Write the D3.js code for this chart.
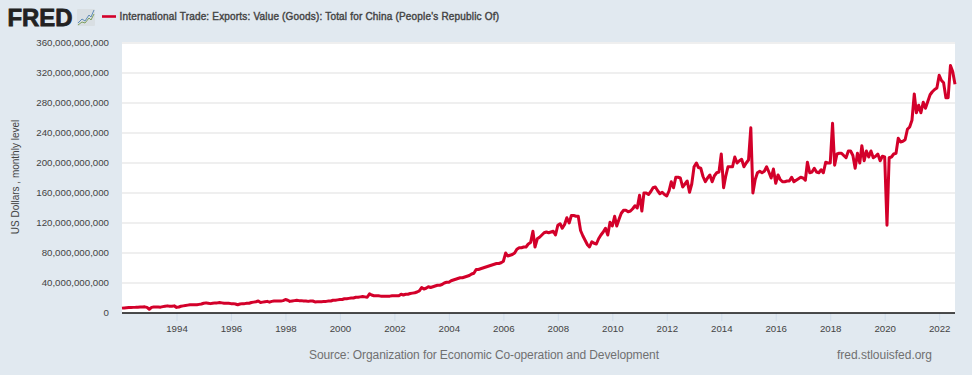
<!DOCTYPE html>
<html><head><meta charset="utf-8">
<style>html,body{margin:0;padding:0;background:#e1e9f0;overflow:hidden}svg{display:block}text{font-family:"Liberation Sans",Arial,sans-serif}</style>
<script src="https://cdn.jsdelivr.net/npm/d3@7"></script></head><body><svg id="c" width="972" height="375"></svg>
<script>
const seriesTitle = "International Trade: Exports: Value (Goods): Total for China (People's Republic Of)";
const yAxisLabel = "US Dollars , monthly level";
const sourceText = "Source: Organization for Economic Co-operation and Development";
const siteText = "fred.stlouisfed.org";
const startYear = 1992;
const yTicks = [0,40,80,120,160,200,240,280,320,360];
const xTickYears = [1994,1996,1998,2000,2002,2004,2006,2008,2010,2012,2014,2016,2018,2020,2022];
// Monthly values in billions of US dollars
const v1992 = [6.5,6.8,7,7.2,7.3,7.5,7.6,7.8,8,8,8.2,7.5];
const v1993 = [5,7.5,8,8,8,7.8,8.5,9,9.5,9,9,9.5];
const v1994 = [7.5,8,9,9.5,10,10.5,11,11,11,11,11.5,12];
const v1995 = [13,13.5,13,12.5,13,13.5,13.5,14,13.5,13,13,13];
const v1996 = [12.5,12.5,12,11,12,12.5,12.5,13,13,14,14.5,15];
const v1997 = [16,14,14.5,15,15.5,14.5,15.5,16,16,16,16,16.5];
const v1998 = [18,17,15.5,16,16.5,17,16.5,16.5,16,16,15.5,16];
const v1999 = [16,14.7,15,15,15,15.5,15.5,16,16,17,17,17.5];
const v2000 = [18,18,19,19,19.5,20,20,21,21,21.5,22,21.5];
const v2001 = [21,25.5,24,23,23,23,22.5,22.5,22.5,22.5,22.5,23];
const v2002 = [23,23,23,25,24,25,25,26,26.5,27,28,29.5];
const v2003 = [34,32,33,35,34,35,36,37,37,38,40,41];
const v2004 = [41,43,44,45,46,47,47,48,49,50,52,53];
const v2005 = [58,58,59,60,61,62,63,64,65,66,66,67];
const v2006 = [69,80,76,77,78,80,85,87,87,88,88,92];
const v2007 = [94,109,88,99,101,104,107,108,107,108,109,104];
const v2008 = [117,119,113,118,127,120,130,130,129,129,110,103];
const v2009 = [97,91,88,95,93,92,99,104,108,113,104,121];
const v2010 = [116,129,116,125,133,137,137,135,136,139,143,140];
const v2011 = [157,136,160,160,158,162,167,168,163,159,161,158];
const v2012 = [156,163,175,167,181,181,180,168,172,176,161,172];
const v2013 = [195,200,194,193,182,175,180,184,175,183,187,188];
const v2014 = [212,167,182,195,195,195,208,200,203,205,195,200];
const v2015 = [204,247,160,178,187,189,187,189,195,188,180,192];
const v2016 = [173,184,178,175,175,176,176,181,175,177,179,181];
const v2017 = [180,177,201,187,188,193,188,187,191,187,201,200];
const v2018 = [200,253,197,212,213,213,210,207,216,216,210,193];
const v2019 = [213,200,223,203,216,208,216,207,209,212,203,209];
const v2020 = [208,117,207,208,212,213,233,228,229,231,245,248];
const v2021 = [257,292,267,277,267,281,273,282,291,295,298,300];
const v2022 = [317,310,307,287,287,330,322,305];
const values = [v1992,v1993,v1994,v1995,v1996,v1997,v1998,v1999,v2000,v2001,v2002,v2003,v2004,v2005,v2006,v2007,v2008,v2009,v2010,v2011,v2012,v2013,v2014,v2015,v2016,v2017,v2018,v2019,v2020,v2021,v2022].flat();
const data = values.map((v,i)=>({d:new Date(startYear,i,1),v:v*1e9}));

const svg = d3.select("#c");
const L=122,R=955,T=42,B=313;
svg.append("rect").attr("x",L).attr("y",T).attr("width",R-L).attr("height",B-T).attr("fill","#fff");
const x = d3.scaleTime().domain([new Date(startYear,0,1),new Date(startYear,values.length-1,1)]).range([L,R]);
const y = d3.scaleLinear().domain([0,360e9]).range([B,43]);

svg.append("g").selectAll("line").data(yTicks.filter(t=>t>0)).join("line")
  .attr("x1",L).attr("x2",R).attr("y1",t=>y(t*1e9)).attr("y2",t=>y(t*1e9))
  .attr("stroke","#eaeaea").attr("stroke-width",1.4);

const gy = svg.append("g").attr("transform",`translate(${L},0)`)
  .call(d3.axisLeft(y).tickValues(yTicks.map(t=>t*1e9)).tickSize(0).tickPadding(13).tickFormat(d3.format(",")));
gy.select(".domain").remove();
gy.selectAll("text").attr("font-size",9.7).attr("fill","#444").attr("font-family","Liberation Sans").attr("dy","0.22em");
const gx = svg.append("g").attr("transform",`translate(0,${B})`)
  .call(d3.axisBottom(x).tickValues(xTickYears.map(yr=>new Date(yr,0,1))).tickSize(8).tickPadding(4).tickFormat(d3.timeFormat("%Y")));
gx.select(".domain").remove();
gx.selectAll("line").attr("stroke","#cfdcea");
gx.selectAll("text").attr("font-size",9.7).attr("fill","#444").attr("font-family","Liberation Sans").attr("dy","0.72em");

svg.append("path").datum(data).attr("fill","none").attr("stroke","#d3002a").attr("stroke-width",3).attr("stroke-linejoin","round")
  .attr("d",d3.line().x(d=>x(d.d)).y(d=>y(d.v)));
svg.append("line").attr("x1",L).attr("x2",R).attr("y1",B).attr("y2",B).attr("stroke","#111").attr("stroke-width",1.6);

svg.append("text").attr("x",7.5).attr("y",26).attr("font-size",24).attr("font-weight",700).attr("fill","#222")
  .attr("stroke","#222").attr("stroke-width",.8).attr("textLength",65).attr("lengthAdjust","spacingAndGlyphs").text("FRED");
svg.append("rect").attr("x",77).attr("y",9).attr("width",18).attr("height",17).attr("rx",1).attr("fill","#d9dfe3");
const ic=d3.line();
svg.append("path").attr("d",ic([[78,23],[82,19],[85,21],[89,15],[91,17],[94,10]])).attr("fill","none").attr("stroke","#5f8cb8").attr("stroke-width",1);
svg.append("path").attr("d",ic([[78,25],[82,22],[85,23],[89,18],[91,20],[94,14]])).attr("fill","none").attr("stroke","#7fa05f").attr("stroke-width",1);
svg.append("line").attr("x1",102).attr("x2",116).attr("y1",16.5).attr("y2",16.5).attr("stroke","#d3002a").attr("stroke-width",2.6);
svg.append("text").attr("x",119.5).attr("y",20).attr("font-size",10).attr("font-weight",400).attr("fill","#444").attr("stroke","#444").attr("stroke-width",.4)
  .attr("textLength",379.5).attr("lengthAdjust","spacing").text(seriesTitle);

svg.append("text").attr("transform","translate(18.5,177) rotate(-90)").attr("text-anchor","middle").attr("font-size",10).attr("fill","#444").text(yAxisLabel);
svg.append("text").attr("x",309).attr("y",358.5).attr("font-size",12).attr("fill","#707070").attr("textLength",350).attr("lengthAdjust","spacing").text(sourceText);
svg.append("text").attr("x",837).attr("y",358.5).attr("font-size",12).attr("fill","#707070").attr("textLength",95).attr("lengthAdjust","spacing").text(siteText);
</script></body></html>
